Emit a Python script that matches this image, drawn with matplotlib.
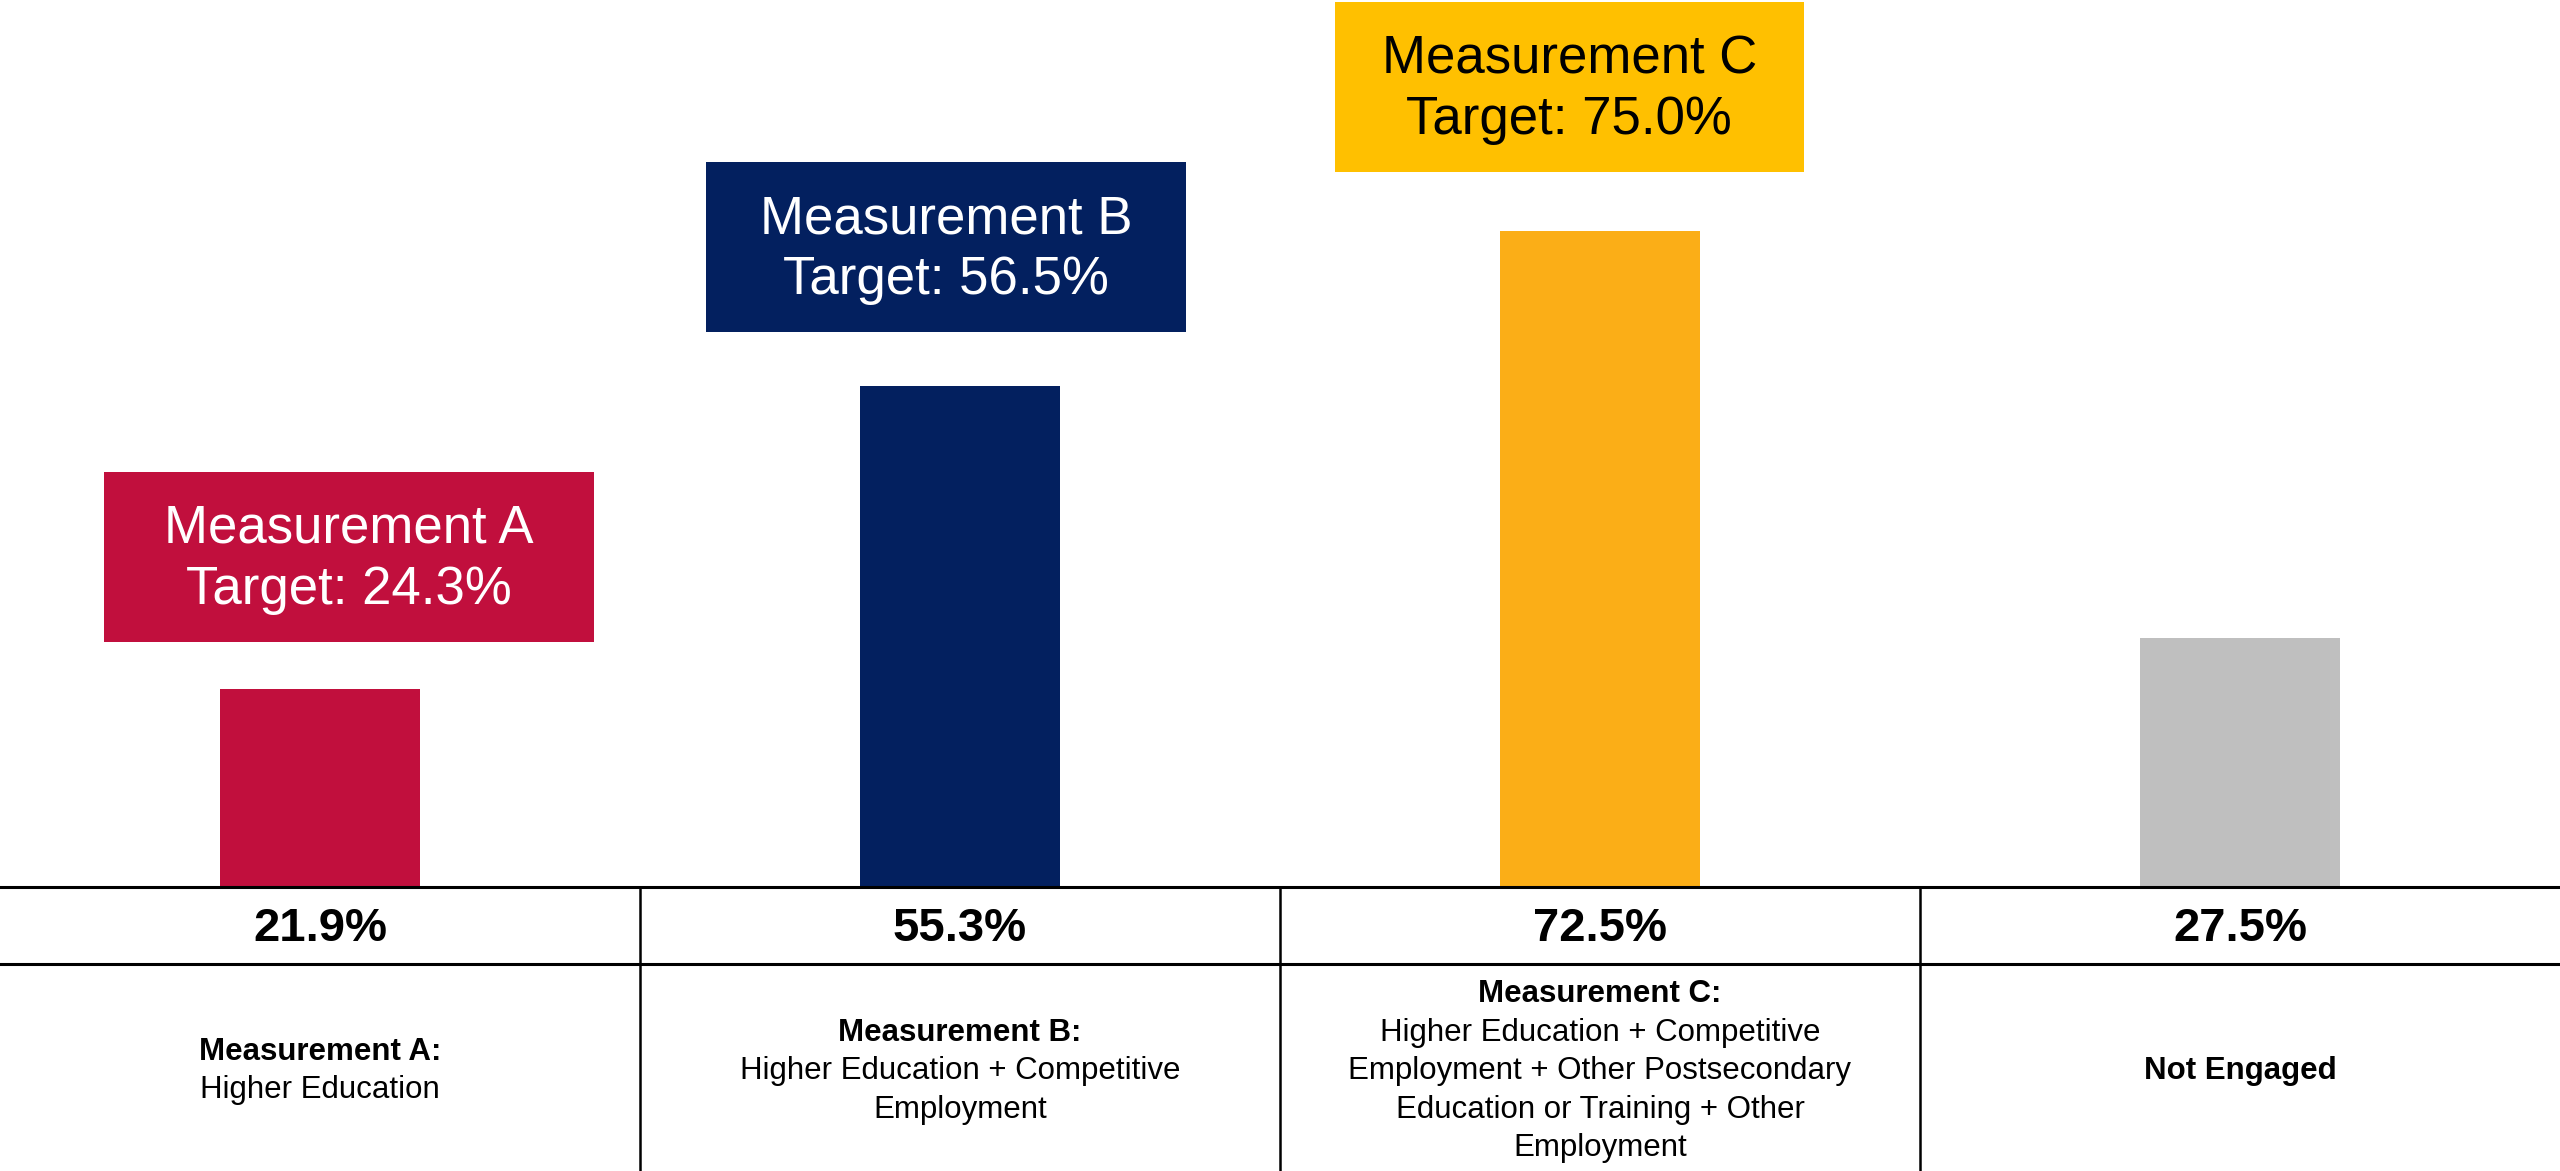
import matplotlib.pyplot as plt
from matplotlib.patches import Rectangle

plt.rcParams['font.family'] = ['Liberation Sans', 'DejaVu Sans']

# Data
categories = ['Measurement A', 'Measurement B', 'Measurement C', 'Not Engaged']
values = [21.9, 55.3, 72.5, 27.5]
target_names = ['Measurement A', 'Measurement B', 'Measurement C']
targets = [24.3, 56.5, 75.0]
desc_titles = ['Measurement A:', 'Measurement B:', 'Measurement C:', 'Not Engaged']
desc_bodies = [
    ['Higher Education'],
    ['Higher Education + Competitive', 'Employment'],
    ['Higher Education + Competitive', 'Employment + Other Postsecondary',
     'Education or Training + Other', 'Employment'],
    [],
]

# Styles / layout
bar_colors = ['#C10F3D', '#03205F', '#FBAE17', '#BFBFBF']
box_colors = ['#C10F3D', '#03205F', '#FFC000']
box_text_colors = ['white', 'white', 'black']
box_cy = [36.5, 70.7, 88.4]
box_dx = [0.045, -0.022, -0.048]
box_w = [0.766, 0.75, 0.733]
box_h = 18.8

W, H = 2560, 1171
fig = plt.figure(figsize=(W / 100, H / 100), dpi=100)
table_top = (H - 887) / H

# Bar chart
ax = fig.add_axes([0, table_top, 1, 1 - table_top])
x = list(range(len(categories)))
ax.bar(x, values, width=0.314, color=bar_colors)
ax.set_xlim(-0.5, len(categories) - 0.5)
ax.set_ylim(0, 98)
ax.axis('off')

for i, name in enumerate(target_names):
    cx = x[i] + box_dx[i]
    ax.add_patch(Rectangle((cx - box_w[i] / 2, box_cy[i] - box_h / 2), box_w[i], box_h,
                           facecolor=box_colors[i], edgecolor='none', clip_on=False))
    ax.text(cx, box_cy[i] - 0.3, f'{name}\nTarget: {targets[i]:.1f}%', ha='center', va='center',
            fontsize=38, color=box_text_colors[i], linespacing=1.28)

# Table below
tx = fig.add_axes([0, 0, 1, table_top])
tx.set_xlim(-0.5, len(categories) - 0.5)
tx.set_ylim(0, 1)
tx.axis('off')
row_split = 0.729
line_h = 0.1356
tx.axhline(1.0, color='black', lw=2.2, clip_on=False)
tx.axhline(row_split, color='black', lw=2.2)
for i in range(1, len(categories)):
    tx.axvline(i - 0.5, color='black', lw=1.8)

for i in x:
    tx.text(i, 0.853, f'{values[i]:.1f}%', ha='center', va='center',
            fontsize=34, fontweight='bold')
    lines = [desc_titles[i]] + desc_bodies[i]
    n = len(lines)
    top = 0.352 + (n - 1) / 2 * line_h
    for k, line in enumerate(lines):
        tx.text(i, top - k * line_h, line, ha='center', va='center', fontsize=22.5,
                fontweight='bold' if k == 0 else 'normal')

fig.savefig('out.png', dpi=100)
